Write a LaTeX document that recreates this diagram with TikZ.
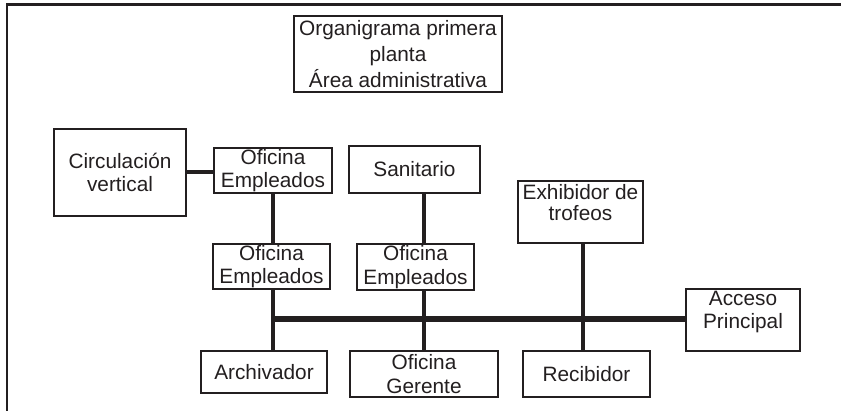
\documentclass[tikz,border=0pt]{standalone}
\usepackage{fontspec}
\setmainfont{Liberation Sans}
\definecolor{ink}{HTML}{231F20}
\begin{document}
\begin{tikzpicture}[x=1pt,y=-1pt,
  box/.style={draw=ink,line width=1.5pt,inner sep=0pt,align=center,text=ink,
    font=\fontsize{20.8}{23.5}\selectfont},
  conn/.style={draw=ink,line width=3.3pt},
  bus/.style={draw=ink,line width=5.6pt}]
\useasboundingbox (0,0) rectangle (841,411);
\fill[white] (0,0) rectangle (841,411);
\draw[ink,line width=2.2pt] (6.7,411) -- (6.7,4.5) -- (841,4.5);
% nodes
\node[box,minimum width=208pt,minimum height=76pt,font=\fontsize{20.8}{26}\selectfont] (title) at (398,54) {Organigrama primera\\planta\\Área administrativa};
\node[box,minimum width=132pt,minimum height=87pt] (circ) at (120,172.5) {Circulación\\vertical};
\node[box,minimum width=118pt,minimum height=45pt] (of1) at (273,170.5) {Oficina\\Empleados};
\node[box,minimum width=117pt,minimum height=45pt] (of2) at (271.5,266.5) {Oficina\\Empleados};
\node[box,minimum width=131pt,minimum height=47pt] (san) at (414.5,169.5) {Sanitario};
\node[box,minimum width=117pt,minimum height=46pt] (of3) at (415.5,267) {Oficina\\Empleados};
\node[box,minimum width=125pt,minimum height=62pt] (exh) at (580.5,212) {};
\node[text=ink,align=center,inner sep=0pt,font=\fontsize{20.8}{21}\selectfont] (exht) at (580.5,203) {Exhibidor de\\trofeos};
\node[box,minimum width=126pt,minimum height=42pt] (arch) at (264,372) {Archivador};
\node[box,minimum width=148pt,minimum height=46pt] (ger) at (424,374) {Oficina\\Gerente};
\node[box,minimum width=127pt,minimum height=46pt] (rec) at (586.5,374) {Recibidor};
\node[box,minimum width=114pt,minimum height=62pt] (acc) at (743,320) {};
\node[text=ink,align=center,inner sep=0pt,font=\fontsize{20.8}{23.5}\selectfont] (acct) at (743,312) {Acceso\\Principal};
% bus coordinates
\coordinate (b1) at (273,319);
\coordinate (b2) at (424,319);
\coordinate (b3) at (583,319);
% connectors
\draw[conn] (circ.east |- 0,172) -- (of1.west |- 0,172);
\draw[conn] (b1 |- of1.south) -- (b1 |- of2.north);
\draw[conn] (b1 |- of2.south) -- (b1 |- arch.north);
\draw[conn] (b2 |- san.south) -- (b2 |- of3.north);
\draw[conn] (b2 |- of3.south) -- (b2 |- ger.north);
\draw[conn] (b3 |- exh.south) -- (b3 |- rec.north);
\draw[bus] (b1) -- (b1 -| acc.west);
\end{tikzpicture}
\end{document}
